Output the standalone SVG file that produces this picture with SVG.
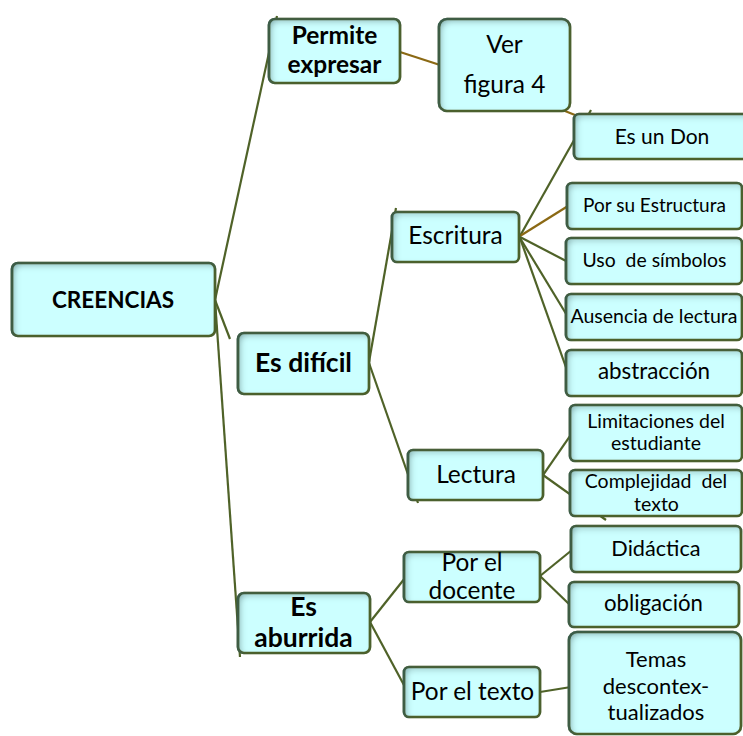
<svg xmlns="http://www.w3.org/2000/svg" width="743" height="736" viewBox="0 0 743 736">
<defs>
<filter id="ins" x="-10%" y="-10%" width="120%" height="120%">
<feComponentTransfer in="SourceAlpha"><feFuncA type="table" tableValues="1 0"/></feComponentTransfer>
<feGaussianBlur stdDeviation="3.5"/>
<feOffset dx="3" dy="3" result="o"/>
<feFlood flood-color="#2a5858" flood-opacity="0.75"/>
<feComposite in2="o" operator="in"/>
<feComposite in2="SourceAlpha" operator="in" result="s"/>
<feMerge><feMergeNode in="SourceGraphic"/><feMergeNode in="s"/></feMerge>
</filter>
</defs>
<style>
.box{fill:#ccffff;stroke:#4f6228;stroke-width:2.7;filter:url(#ins)}
.c{fill:none;stroke:#4f6228;stroke-width:2.2}
.cb{fill:none;stroke:#8b6914;stroke-width:2.2}
text{font-family:Lato,"Open Sans","Liberation Sans",sans-serif;fill:#000;text-anchor:middle}
.b{font-weight:bold}
</style>
<rect width="743" height="736" fill="#fff"/>
<g id="connectors">
<line class="c" x1="215" y1="300" x2="277" y2="16"/>
<line class="c" x1="215" y1="300" x2="230" y2="339"/>
<line class="c" x1="215" y1="300" x2="240" y2="657"/>
<line class="cb" x1="400" y1="52" x2="440" y2="65"/>
<line class="cb" x1="555" y1="107" x2="580" y2="117"/>
<line class="c" x1="369" y1="362" x2="396" y2="208"/>
<line class="c" x1="369" y1="363" x2="418" y2="503"/>
<line class="c" x1="520" y1="236" x2="591" y2="110"/>
<line class="cb" x1="520" y1="236" x2="568" y2="206"/>
<line class="c" x1="520" y1="237" x2="568" y2="262"/>
<line class="c" x1="520" y1="238" x2="568" y2="317"/>
<line class="c" x1="520" y1="238" x2="568" y2="373"/>
<line class="c" x1="543" y1="475" x2="572" y2="433"/>
<line class="c" x1="543" y1="475" x2="606" y2="520"/>
<line class="c" x1="370" y1="622" x2="405" y2="578"/>
<line class="c" x1="370" y1="622" x2="405" y2="687"/>
<line class="c" x1="540" y1="576" x2="572" y2="550"/>
<line class="c" x1="540" y1="576" x2="570" y2="605"/>
<line class="c" x1="540" y1="692" x2="571" y2="687"/>
</g>
<g id="creencias"><rect class="box" x="12" y="263" width="203" height="73" rx="6"/><text class="b" x="113" y="308" font-size="22.5">CREENCIAS</text></g>
<g id="permite"><rect class="box" x="269" y="19" width="131" height="64" rx="6"/><text class="b" x="334.5" y="44" font-size="24.5">Permite</text><text class="b" x="334.5" y="73" font-size="24.5">expresar</text></g>
<g id="ver"><rect class="box" x="439" y="19" width="131" height="92" rx="8"/><text x="504.5" y="53" font-size="24.5">Ver</text><text x="504.5" y="93" font-size="24.5">figura 4</text></g>
<g id="esdificil"><rect class="box" x="238" y="333" width="131" height="61" rx="6"/><text class="b" x="303.5" y="372" font-size="26.5">Es difícil</text></g>
<g id="escritura"><rect class="box" x="392" y="212" width="127" height="50" rx="5"/><text x="455.5" y="244" font-size="24.5">Escritura</text></g>
<g id="esundon"><rect class="box" x="574" y="114" width="180" height="45" rx="5"/><text x="662" y="144" font-size="21">Es un Don</text></g>
<g id="estructura"><rect class="box" x="567" y="183" width="175" height="46" rx="5"/><text x="654.5" y="212" font-size="19">Por su Estructura</text></g>
<g id="simbolos"><rect class="box" x="566" y="238" width="176" height="46" rx="5"/><text x="654.5" y="267" font-size="19.4" xml:space="preserve">Uso  de símbolos</text></g>
<g id="ausencia"><rect class="box" x="566" y="294" width="176" height="46" rx="5"/><text x="654" y="323" font-size="19.5">Ausencia de lectura</text></g>
<g id="abstraccion"><rect class="box" x="566" y="350" width="176" height="46" rx="5"/><text x="654" y="379" font-size="22.4">abstracción</text></g>
<g id="lectura"><rect class="box" x="408" y="450" width="135" height="50" rx="5"/><text x="476" y="483" font-size="24.5">Lectura</text></g>
<g id="limitaciones"><rect class="box" x="570" y="405" width="172" height="56" rx="5"/><text x="656" y="428" font-size="19.5">Limitaciones del</text><text x="656" y="450" font-size="19.5">estudiante</text></g>
<g id="complejidad"><rect class="box" x="570" y="470" width="172" height="46" rx="5"/><text x="656" y="488" font-size="19.5" xml:space="preserve">Complejidad  del</text><text x="656.5" y="511" font-size="19.5">texto</text></g>
<g id="esaburrida"><rect class="box" x="238" y="593" width="132" height="60" rx="6"/><text class="b" x="303.5" y="616" font-size="26.5">Es</text><text class="b" x="303.5" y="647" font-size="26.5">aburrida</text></g>
<g id="docente"><rect class="box" x="404" y="552" width="136" height="50" rx="5"/><text x="472" y="571" font-size="24.4">Por el</text><text x="472" y="599" font-size="24.4">docente</text></g>
<g id="portexto"><rect class="box" x="404" y="667" width="136" height="50" rx="5"/><text x="472.5" y="700" font-size="24.4">Por el texto</text></g>
<g id="didactica"><rect class="box" x="571" y="526" width="170" height="46" rx="5"/><text x="656" y="556" font-size="21.7">Didáctica</text></g>
<g id="obligacion"><rect class="box" x="569" y="582" width="170" height="45" rx="5"/><text x="653.5" y="611" font-size="22.2">obligación</text></g>
<g id="temas"><rect class="box" x="569" y="632" width="172" height="102" rx="8"/><text x="656" y="667" font-size="22">Temas</text><text x="656" y="694" font-size="22">descontex-</text><text x="656" y="720" font-size="22">tualizados</text></g>
</svg>
